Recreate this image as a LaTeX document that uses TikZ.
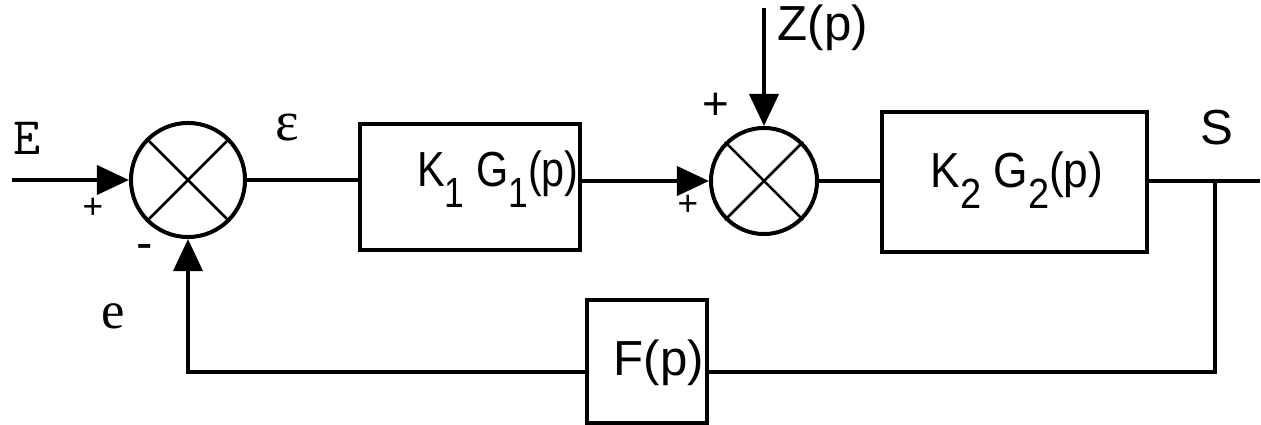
\documentclass[tikz,border=0pt]{standalone}
\usepackage{fontspec}
\setmainfont{Liberation Sans}
\newfontfamily\serifgr{Liberation Serif}
\usetikzlibrary{arrows.meta}
\newcommand\lowsub[1]{\raisebox{-0.2cm}{\fontsize{12}{12}\selectfont #1}}
\begin{document}
\begin{tikzpicture}[x=0.01cm,y=-0.01cm, line width=0.04cm,
  blk/.style={draw, rectangle, inner sep=0pt},
  sum/.style={draw, circle, inner sep=0pt},
  lbl/.style={inner sep=0pt, font=\fontsize{14}{14}\selectfont},
  arr/.style={-{Triangle[length=0.32cm,width=0.29cm]}},
  xline/.style={line width=0.025cm}]
\useasboundingbox (0,0) rectangle (1261,425);
% summing junctions
\node[sum, minimum size=1.14cm] (s1) at (188,180) {};
\node[sum, minimum size=1.06cm] (s2) at (764,181) {};
\draw[xline] (s1.45) -- (s1.225) (s1.135) -- (s1.315);
\draw[xline] (s2.45) -- (s2.225) (s2.135) -- (s2.315);
% blocks
\node[blk, minimum width=2.2cm, minimum height=1.26cm] (b1) at (470,187) {};
\node[blk, minimum width=2.65cm, minimum height=1.40cm] (b2) at (1014.5,182) {};
\node[blk, minimum width=1.2cm, minimum height=1.23cm] (fb) at (647,361.5) {};
\node[lbl, anchor=base] (t1) at (498,187) {\scalebox{0.84}[1]{K\lowsub{1} G\lowsub{1}(p)}};
\node[lbl, anchor=base] (t2) at (1017,188) {\scalebox{0.9}[1]{K\lowsub{2} G\lowsub{2}(p)}};
\node[lbl, anchor=base] (tf) at (659,376) {F(p)};
% connectors
\coordinate (in) at (12,180);
\coordinate (z) at (764,8);
\coordinate (out) at (1260,181);
\coordinate (br) at (1215,181);
\coordinate (fbl) at (1215,372);
\draw[arr] (in) -- (s1.west);
\draw (s1.east) -- (s1.east -| b1.west);
\draw[arr] (b1.east |- s2.west) -- (s2.west);
\draw[arr] (z) -- (s2.north);
\draw (s2.east) -- (s2.east -| b2.west);
\draw (b2.east |- out) -- (out);
\draw (br) -- (fbl) -- (fbl -| fb.east);
\draw[arr] (fbl -| fb.west) -| (s1.south);
% labels
\node[inner sep=0pt, font=\ttfamily\fontsize{15}{15}\selectfont] (lE) at (27,138) {E};
\node[inner sep=0pt, font=\fontsize{10}{10}\selectfont] (p1) at (93,208) {+};
\node[inner sep=0pt, font=\fontsize{14}{14}\selectfont] (m1) at (145,252) {-};
\node[inner sep=0pt, font=\serifgr\fontsize{16}{16}\selectfont] (leps) at (287,128) {ε};
\node[inner sep=0pt, font=\serifgr\fontsize{15}{15}\selectfont] (le) at (113,316) {e};
\node[lbl] (lz) at (823,28) {Z(p)};
\node[inner sep=0pt, font=\fontsize{13}{13}\selectfont] (p2) at (716,106) {+};
\node[inner sep=0pt, font=\fontsize{10}{10}\selectfont] (p3) at (688,205) {+};
\node[lbl] (lS) at (1217,128) {S};
\end{tikzpicture}
\end{document}
